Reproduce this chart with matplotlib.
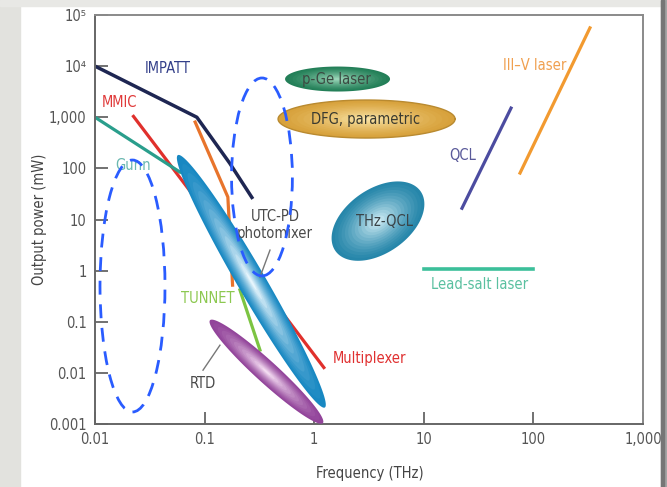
import numpy as np
import matplotlib
matplotlib.use('Agg')
import matplotlib.pyplot as plt
from matplotlib.patches import Ellipse, Rectangle
from matplotlib.colors import to_rgb

plt.rcParams['font.family'] = ['DejaVu Sans']
plt.rcParams['font.stretch'] = 'condensed'
plt.rcParams['font.size'] = 10

# ---- data (frequency in THz, output power in mW) ----
impatt_f = [0.01, 0.085, 0.17, 0.27]
impatt_p = [1e4, 1000, 125, 27]
mmic_f = [0.022, 1.25]
mmic_p = [1100, 0.012]
orange_f = [0.082, 0.163, 0.18]
orange_p = [805, 27.5, 0.52]
gunn_f = [0.01, 0.0596]
gunn_p = [1000, 84.7]
tunnet_f = [0.21, 0.32]
tunnet_p = [0.42, 0.028]
qcl_f = [22.3, 62.5]
qcl_p = [16.6, 1510]
iiiv_f = [75.5, 328]
iiiv_p = [81, 56000]
leadsalt_f = [10, 100]
leadsalt_p = [1.1, 1.1]

# regions: major-axis end points (f0, p0, f1, p1)
utc_ends = (0.057, 182, 1.25, 0.0021)
rtd_ends = (0.112, 0.107, 1.20, 0.00104)
pge_ends = (0.542, 5590, 4.92, 5590)
dfg_ends = (0.468, 923, 19.3, 923)
thz_ends = (1.56, 2.43, 9.35, 35.6)

xticks = [0.01, 0.1, 1, 10, 100, 1000]
xticklabels = ['0.01', '0.1', '1', '10', '100', '1,000']
yticks = [1e-3, 1e-2, 1e-1, 1, 10, 100, 1000, 1e4, 1e5]
yticklabels = ['0.001', '0.01', '0.1', '1', '10', '100', '1,000', '10⁴', '10⁵']

fig = plt.figure(figsize=(6.67, 4.87), dpi=100)
fig.patch.set_facecolor('white')
# screenshot background bits
fig.patches.append(Rectangle((0, 0), 20 / 667, 1, transform=fig.transFigure,
                             color='#e2e2de', zorder=-1))
fig.patches.append(Rectangle((0, 1 - 6 / 487), 1, 6 / 487, transform=fig.transFigure,
                             color='#e8e8e5', zorder=-1))
fig.patches.append(Rectangle((661 / 667, 0), 6 / 667, 1, transform=fig.transFigure,
                             color='#a4a4a4', zorder=-1))
fig.patches.append(Rectangle((661 / 667, 0), 3 / 667, 1, transform=fig.transFigure,
                             color='#767676', zorder=-1))

ax = fig.add_axes([95 / 667, 63 / 487, 548 / 667, 409 / 487])
ax.set_xscale('log')
ax.set_yscale('log')
ax.set_xlim(0.01, 1000)
ax.set_ylim(0.001, 1e5)
ax.set_xticks(xticks)
ax.set_xticklabels(xticklabels)
ax.set_yticks(yticks)
ax.set_yticklabels(yticklabels)
ax.minorticks_off()
ax.tick_params(direction='in', length=9, width=1.3, color='#666666',
               labelcolor='#555555', labelsize=10.5, pad=6)
for s in ax.spines.values():
    s.set_color('#8a8a8a')
    s.set_linewidth(1.4)
ax.spines['left'].set_color('#666666')
ax.spines['bottom'].set_color('#666666')

ax.set_xlabel('Frequency (THz)', color='#444444', fontsize=10.5)
ax.set_ylabel('Output power (mW)', color='#444444', fontsize=10.5)
ax.xaxis.set_label_coords(0.502, -0.103)
ax.yaxis.set_label_coords(-0.088, 0.50)

# lines
ax.plot(mmic_f, mmic_p, color='#e0302c', lw=2.3, zorder=2, solid_capstyle='butt')
ax.plot(orange_f, orange_p, color='#e8742c', lw=2.3, zorder=2)
ax.plot(gunn_f, gunn_p, color='#2a9e8c', lw=2.3, zorder=2)
ax.plot(impatt_f, impatt_p, color='#1e2652', lw=2.5, zorder=2)
ax.plot(tunnet_f, tunnet_p, color='#7cc442', lw=2.3, zorder=2)
ax.plot(qcl_f, qcl_p, color='#4c4ca0', lw=2.3, zorder=2)
ax.plot(iiiv_f, iiiv_p, color='#f29a30', lw=2.3, zorder=2)
ax.plot(leadsalt_f, leadsalt_p, color='#3cbf9a', lw=2.6, zorder=2)


def blob(ends, minor_px, edge, center, outline=None, z=3, n=14):
    """gradient ellipse between two data points, drawn via display coords"""
    p0 = ax.transData.transform((ends[0], ends[1]))
    p1 = ax.transData.transform((ends[2], ends[3]))
    c = (p0 + p1) / 2
    d = p1 - p0
    a = np.hypot(*d) / 2
    b = minor_px / 2
    ang = np.arctan2(d[1], d[0])
    t = np.linspace(0, 2 * np.pi, 120)
    e0, e1 = np.array(to_rgb(edge)), np.array(to_rgb(center))
    for i in range(n):
        k = 1 - i / n
        col = e0 + (e1 - e0) * (i / (n - 1)) ** 1.3
        xs = a * k * np.cos(t)
        ys = b * k * np.sin(t)
        xd = c[0] + xs * np.cos(ang) - ys * np.sin(ang)
        yd = c[1] + xs * np.sin(ang) + ys * np.cos(ang)
        pts = ax.transData.inverted().transform(np.column_stack([xd, yd]))
        ax.fill(pts[:, 0], pts[:, 1], color=col, lw=0, zorder=z)
        if i == 0 and outline:
            ax.plot(pts[:, 0], pts[:, 1], color=outline, lw=1, zorder=z)


blob(utc_ends, 28, '#1888c2', '#e6f5fc', z=3)
blob(rtd_ends, 22, '#92449a', '#f4dcf2', z=4)
blob(pge_ends, 25, '#237f58', '#9ad6b8', z=3)
blob(dfg_ends, 38, '#d8a23c', '#f9e2a4', outline='#b98a30', z=3)
blob(thz_ends, 64, '#2686aa', '#cdebf3', z=3)

# leader lines
ax.plot([0.395, 0.32], [2.52, 0.746], color='#777777', lw=1, zorder=5)
ax.plot([0.0967, 0.138], [0.0113, 0.0348], color='#777777', lw=1, zorder=5)

# labels
fs = 10.5
ax.text(0.0463, 9190, 'IMPATT', color='#34408a', ha='center', va='center', fontsize=fs)
ax.text(0.0169, 1900, 'MMIC', color='#e03a3a', ha='center', va='center', fontsize=fs)
ax.text(0.0222, 116, 'Gunn', color='#6ab8b0', ha='center', va='center', fontsize=fs)
ax.text(0.44, 7.76, 'UTC-PD\nphotomixer', color='#4a4a4a', ha='center', va='center',
        fontsize=fs, linespacing=1.2, zorder=6)
ax.text(0.107, 0.29, 'TUNNET', color='#8cc850', ha='center', va='center', fontsize=fs)
ax.text(0.0967, 0.0063, 'RTD', color='#4a4a4a', ha='center', va='center', fontsize=fs)
ax.text(1.48, 0.0194, 'Multiplexer', color='#e03030', ha='left', va='center', fontsize=fs)
ax.text(1.61, 5500, 'p-Ge laser', color='#3c4a42', ha='center', va='center', fontsize=fs, zorder=6)
ax.text(2.97, 900, 'DFG, parametric', color='#3a3a30', ha='center', va='center', fontsize=fs, zorder=6)
ax.text(4.4, 9.3, 'THz-QCL', color='#3a4448', ha='center', va='center', fontsize=fs, zorder=6)
ax.text(22.8, 182, 'QCL', color='#5a5a9a', ha='center', va='center', fontsize=fs)
ax.text(103.5, 10500, 'III–V laser', color='#f0a050', ha='center', va='center', fontsize=fs)
ax.text(32.6, 0.545, 'Lead-salt laser', color='#5ac0a0', ha='center', va='center', fontsize=fs)

# blue dashed annotation ovals
for cx, cy, w, h in [(0.0684, 0.3374, 0.1186, 0.616), (0.3047, 0.604, 0.111, 0.484)]:
    ax.add_patch(Ellipse((cx, cy), w, h, transform=ax.transAxes, fill=False,
                         edgecolor='#2a5cff', lw=2, linestyle=(0, (5, 3.5)), zorder=7,
                         clip_on=False))

fig.savefig('out.png', dpi=100)
